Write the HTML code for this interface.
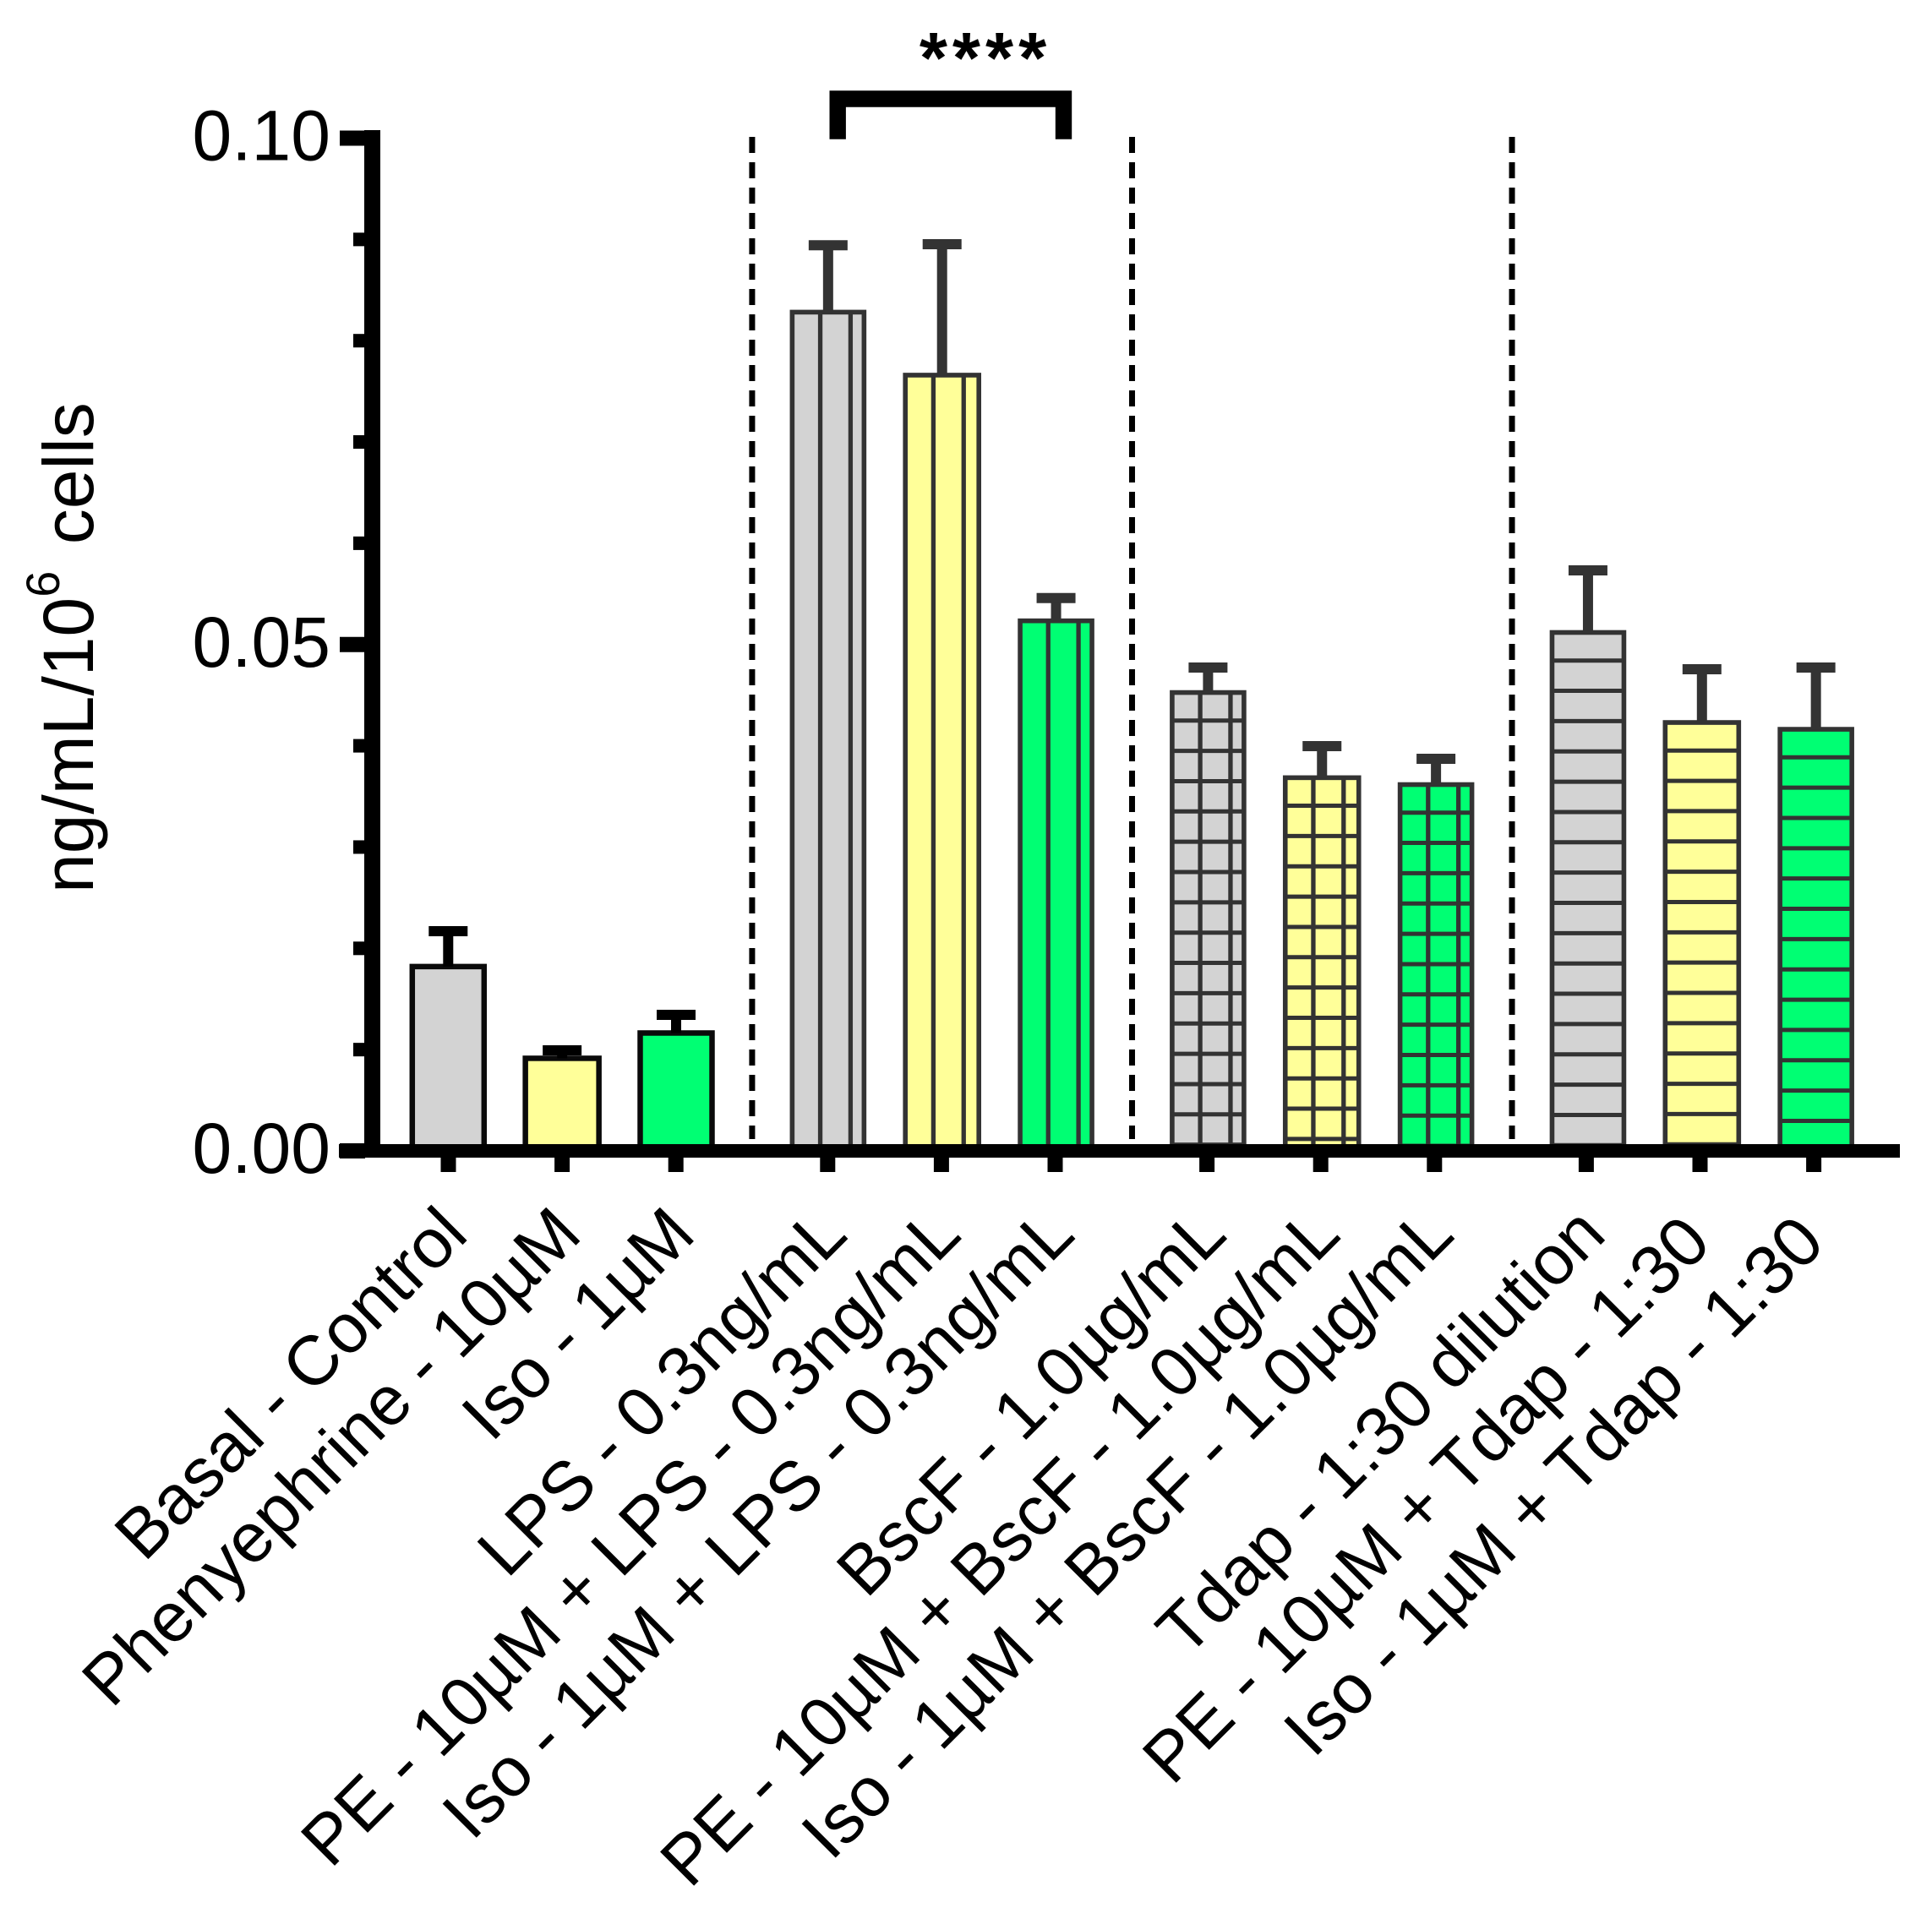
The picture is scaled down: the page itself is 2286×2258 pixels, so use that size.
<!DOCTYPE html>
<html>
<head>
<meta charset="utf-8">
<title>ng/mL per 10^6 cells bar chart</title>
<style>
html,body{margin:0;padding:0;background:#fff;}
svg{display:block;font-family:"Liberation Sans",Arial,sans-serif;}
</style>
</head>
<body>
<svg id="chart" xmlns="http://www.w3.org/2000/svg" width="2286" height="2258" viewBox="0 0 2286 2258">
<rect x="0" y="0" width="2286" height="2258" fill="#ffffff"></rect>
<text transform="translate(110,1057) rotate(-90)" font-size="84" fill="#000">ng/mL/10<tspan dy="-40" font-size="56">6</tspan><tspan dy="40" dx="8"> cells</tspan></text>
<text x="1166" y="98" font-size="85" font-weight="bold" letter-spacing="6" text-anchor="middle" fill="#000">****</text>
</svg>
<script>
const categories = ["Basal - Control","Phenyephrine - 10µM","Iso - 1µM","LPS - 0.3ng/mL","PE - 10µM + LPS - 0.3ng/mL","Iso - 1µM + LPS - 0.3ng/mL","BscF - 1.0µg/mL","PE - 10µM + BscF - 1.0µg/mL","Iso - 1µM + BscF - 1.0µg/mL","Tdap - 1:30 dilution","PE - 10µM + Tdap - 1:30","Iso - 1µM + Tdap - 1:30"];
const means = [0.0182,0.00914,0.01164,0.08282,0.0766,0.05234,0.04526,0.03685,0.03617,0.05119,0.0423,0.04163];
const errors = [0.00349,0.00079,0.00179,0.0066,0.01293,0.00225,0.00247,0.00312,0.00255,0.00613,0.00526,0.0061];
const yTickLabels = ["0.00","0.05","0.10"];
const yMinorTicks = [0.01,0.02,0.03,0.04,0.06,0.07,0.08,0.09];
const groupHatch = ["none","vertical","grid","horizontal"];
const seriesFill = ["#d3d3d3","#ffff99","#00ff73"];
const seriesNames = ["gray","yellow","green"];

const svg = document.getElementById('chart');
const NS = 'http://www.w3.org/2000/svg';
const Y0 = 1362, PX_PER_UNIT = 11985;
function yScale(v){ return Y0 - v * PX_PER_UNIT; }
function groupOf(i){ return Math.floor(i / 3); }
function barX(i){ return 530.3 + 134.85 * i + 45 * groupOf(i); }
function tickX(i){ return 530.5 + 134.6 * i + 45 * groupOf(i); }
function mk(tag, attrs){
  const el = document.createElementNS(NS, tag);
  for (const k in attrs) el.setAttribute(k, attrs[k]);
  return el;
}
const HATCH_STEP = 35.85;

// bars
means.forEach(function(m, i){
  const g = groupOf(i), s = i % 3;
  const stroke = g === 0 ? '#0a0a0a' : '#333333';
  const sw = g === 0 ? 6.5 : 5.6;
  const w = s === 1 ? 87 : 85;
  const cx = barX(i);
  const left = cx - w / 2, right = cx + w / 2, top = yScale(m);
  const bar = mk('rect', {x:left, y:top, width:w, height:Y0 - top, fill:seriesFill[s], stroke:stroke, 'stroke-width':sw});
  
  
  svg.appendChild(bar);
  const hatch = groupHatch[g];
  if (hatch === 'vertical' || hatch === 'grid') {
    for (let x = left - 2.65 + HATCH_STEP; x < right - 6; x += HATCH_STEP) {
      const ln = mk('line', {x1:x, x2:x, y1:top, y2:Y0, stroke:'#333333', 'stroke-width':5.3});
      
      
      svg.appendChild(ln);
    }
  }
  if (hatch === 'horizontal' || hatch === 'grid') {
    for (let y = top - 2.65 + HATCH_STEP; y < Y0 - 2; y += HATCH_STEP) {
      const ln = mk('line', {x1:left, x2:right, y1:y, y2:y, stroke:'#333333', 'stroke-width':5});
      
      
      svg.appendChild(ln);
    }
  }
  // error bar
  const capY = yScale(m + errors[i]);
  const errColor = g === 0 ? '#000000' : '#333333';
  const stem = mk('line', {x1:cx, x2:cx, y1:capY, y2:top, stroke:errColor, 'stroke-width':12});
  
  
  svg.appendChild(stem);
  const cap = mk('line', {x1:cx - 23, x2:cx + 23, y1:capY, y2:capY, stroke:errColor, 'stroke-width':12});
  
  
  svg.appendChild(cap);
});

// group separators
[1,2,3].forEach(function(g){
  const x = (barX(3 * g - 1) + barX(3 * g)) / 2;
  const d = mk('line', {x1:x, x2:x, y1:162, y2:1348, stroke:'#000', 'stroke-width':7, 'stroke-dasharray':'19 11'});
  
  
  svg.appendChild(d);
});

// y axis
const yAxis = mk('rect', {x:431, y:154, width:19, height:Y0 + 8 - 154, fill:'#000'});


svg.appendChild(yAxis);
yTickLabels.forEach(function(lbl){
  const v = parseFloat(lbl), y = yScale(v);
  const t = mk('rect', {x:402, y:y - 9, width:30, height:18, fill:'#000'});
  
  
  svg.appendChild(t);
  const tx = mk('text', {x:391, y:y + 26, 'font-size':84, 'text-anchor':'end', fill:'#000'});
  tx.textContent = lbl;
  
  
  svg.appendChild(tx);
});
yMinorTicks.forEach(function(v){
  const t = mk('rect', {x:418, y:yScale(v) - 8, width:14, height:16, fill:'#000'});
  
  
  svg.appendChild(t);
});

// x axis
const xAxis = mk('rect', {x:401, y:Y0 - 8, width:1847, height:16, fill:'#000'});


svg.appendChild(xAxis);
categories.forEach(function(c, i){
  const x = tickX(i);
  const t = mk('rect', {x:x - 9, y:Y0 + 8, width:18, height:17, fill:'#000'});
  
  
  svg.appendChild(t);
  const nudge = i >= 10 ? 10 : 0;
  const ax = x + 26 - nudge, ay = 1464 + nudge;
  const tx = mk('text', {x:ax, y:ay, 'font-size':82.5, 'text-anchor':'end', fill:'#000', transform:'rotate(-45 ' + ax + ' ' + ay + ')'});
  tx.textContent = c;
  
  
  svg.appendChild(tx);
});

// significance bracket
const bracket = mk('path', {d:'M991.2 164.7V117H1258.5V164.7', fill:'none', stroke:'#000', 'stroke-width':19.4});


svg.appendChild(bracket);
</script>
</body>
</html>
